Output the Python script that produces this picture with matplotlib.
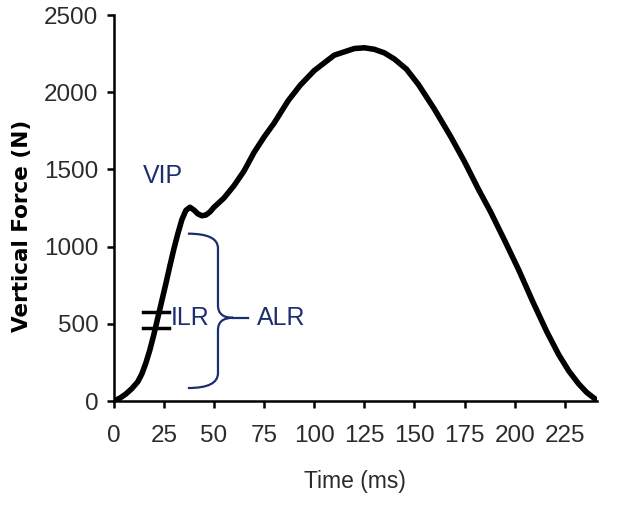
import matplotlib
matplotlib.use("Agg")
import matplotlib.pyplot as plt
from matplotlib.path import Path
from matplotlib.patches import PathPatch
from matplotlib import font_manager as fm

# Data
time_ms = [0, 3, 6, 9, 12, 14, 16, 18, 20, 22, 24, 26, 28, 30, 32, 34, 36, 38, 40, 42, 44,
           46, 48, 50, 55, 60, 65, 70, 75, 80, 87, 93, 100, 110, 120, 125, 130, 135,
           140, 146, 152, 160, 168, 175, 182, 188, 195, 202, 209, 216, 222, 227, 232,
           236, 240]
force_n = [0, 18, 45, 80, 125, 175, 245, 330, 430, 540, 650, 760, 875, 985, 1085, 1175,
           1235, 1255, 1237, 1212, 1200, 1205, 1225, 1255, 1315, 1395, 1490, 1610,
           1710, 1800, 1945, 2045, 2140, 2240, 2283, 2288, 2278, 2255, 2215, 2150,
           2050, 1890, 1715, 1550, 1370, 1225, 1040, 850, 645, 450, 300, 195, 110,
           55, 15]
x_ticks = [0, 25, 50, 75, 100, 125, 150, 175, 200, 225]
y_ticks = [0, 500, 1000, 1500, 2000, 2500]
ilr_levels = [474, 578]

navy = "#1b2f6e"

# pick a narrow font if one is installed
names = {f.name for f in fm.fontManager.ttflist}
if "Liberation Sans Narrow" in names:
    tick_font, tick_size, xl_size = ["Liberation Sans Narrow", "DejaVu Sans"], 20, 19
elif "DejaVu Sans Condensed" in names:
    tick_font, tick_size, xl_size = ["DejaVu Sans Condensed", "DejaVu Sans"], 17, 17
else:
    tick_font, tick_size, xl_size = ["Liberation Sans", "DejaVu Sans"], 17.5, 16.5
sans = ["Liberation Sans", "DejaVu Sans"]

fig = plt.figure(figsize=(6.39, 5.28), dpi=100)
ax = fig.add_axes([0.178, 0.2405, 0.756, 0.731])

ax.plot(time_ms, force_n, color="black", lw=4.0, solid_capstyle="round",
        solid_joinstyle="round", zorder=3)

ax.set_xlim(0, 241)
ax.set_ylim(0, 2500)
ax.set_xticks(x_ticks)
ax.set_yticks(y_ticks)
for s in ["top", "right"]:
    ax.spines[s].set_visible(False)
for s in ["left", "bottom"]:
    ax.spines[s].set_linewidth(1.8)
ax.tick_params(direction="out", length=5, width=1.8, colors="black",
               labelcolor="#2b2b2b")
ax.tick_params(axis="y", pad=6)
ax.tick_params(axis="x", pad=12)
for lab in ax.get_xticklabels() + ax.get_yticklabels():
    lab.set_family(tick_font)
    lab.set_fontsize(tick_size)

ax.set_xlabel("Time (ms)", family=tick_font, fontsize=xl_size, color="#2b2b2b")
ax.xaxis.set_label_coords(0.499, -0.18)
ax.set_ylabel("Vertical Force (N)", family=["DejaVu Sans"],
              fontsize=15.5, fontweight="bold", color="black")
ax.yaxis.set_label_coords(-0.17, 0.455)

# ILR markers
for lvl in ilr_levels:
    ax.plot([14.5, 27.5], [lvl, lvl], color="black", lw=2.5, zorder=4)

ax.text(24.5, 1455, "VIP", color=navy, fontsize=18, ha="center", va="center",
        family=sans)
ax.text(28.3, 535, "ILR", color=navy, fontsize=18, ha="left", va="center",
        family=sans)
ax.text(71.5, 535, "ALR", color=navy, fontsize=18, ha="left", va="center",
        family=sans)

# Brace
verts = [(37, 1084), (52, 1084), (52, 990), (52, 620), (52, 539), (59.5, 539),
         (52, 539), (52, 460), (52, 180), (52, 84), (37, 84)]
codes = [Path.MOVETO, Path.CURVE3, Path.CURVE3, Path.LINETO, Path.CURVE3, Path.CURVE3,
         Path.CURVE3, Path.CURVE3, Path.LINETO, Path.CURVE3, Path.CURVE3]
ax.add_patch(PathPatch(Path(verts, codes), fill=False, edgecolor=navy, lw=1.6,
                       clip_on=False))
ax.plot([59.5, 67], [539, 539], color=navy, lw=1.6)

fig.savefig("out.png", dpi=100)
